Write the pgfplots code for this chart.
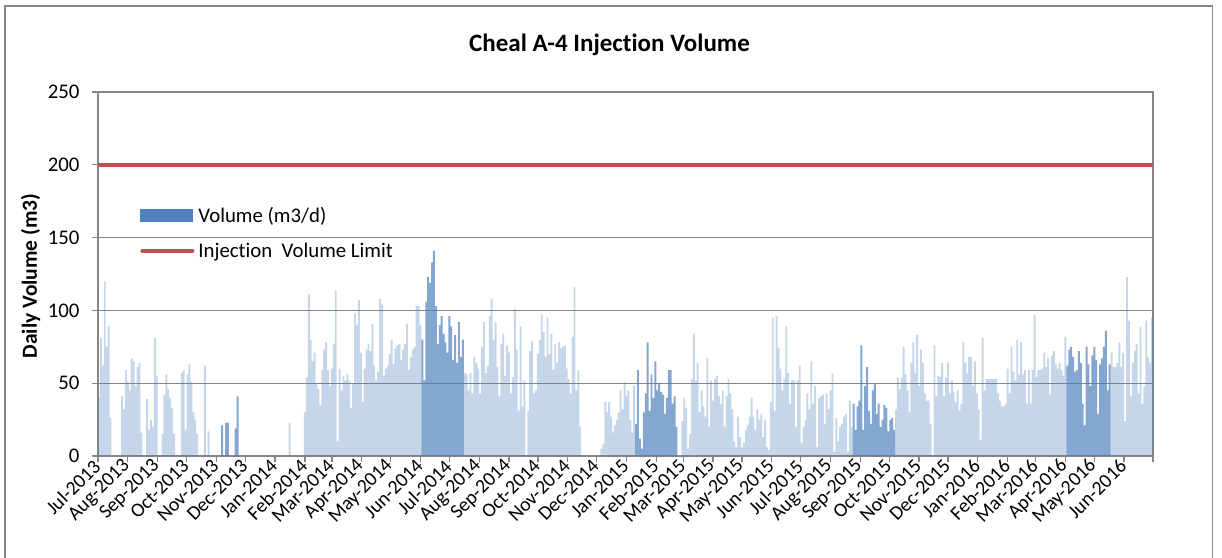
\documentclass[border=0pt]{standalone}
\usepackage{fontspec}
\setmainfont[Ligatures=NoCommon]{Carlito}
\usepackage{pgfplots}
\usepackage{pgfplotstable}
\pgfplotsset{compat=1.18}
\definecolor{legblue}{RGB}{79,129,189}
\definecolor{limitred}{RGB}{192,80,77}
\definecolor{gridgray}{RGB}{134,134,134}

% light (thin, sparse) daily volume bars, 2-day bins: day  value
\pgfplotstableread{
d v
0 40
2 81
4 62
6 120
8 75
10 89
12 26
14 0
24 41
26 32
28 59
30 51
32 45
34 67
36 65
38 48
40 61
42 64
44 16
46 0
50 39
52 18
54 25
56 20
58 81
60 55
62 0
66 15
68 42
70 56
72 46
74 40
76 33
78 15
80 0
86 57
88 59
90 18
92 56
94 63
96 51
98 30
100 25
102 15
104 0
110 62
112 0
114 17
116 0
198 23
200 0
214 30
216 54
218 111
220 80
222 65
224 71
226 50
228 46
230 35
232 59
234 73
236 78
238 59
240 48
242 60
244 77
246 114
248 10
250 60
252 45
254 55
256 52
258 56
260 52
262 33
264 50
266 98
268 90
270 107
272 71
274 37
276 60
278 73
280 77
282 72
284 91
286 62
288 52
290 58
292 108
294 104
296 55
298 60
300 62
302 70
304 80
306 63
308 74
310 76
312 77
314 66
316 73
318 77
320 91
322 59
324 68
326 73
328 75
330 103
332 103
334 90
336 0
380 57
382 56
384 45
386 57
388 43
390 68
392 64
394 60
396 43
398 75
400 92
402 57
404 62
406 96
408 108
410 80
412 92
414 61
416 41
418 77
420 84
422 55
424 76
426 71
428 43
430 54
432 101
434 73
436 31
438 89
440 34
442 52
444 0
446 31
448 72
450 79
452 43
454 45
456 70
458 80
460 97
462 85
464 68
466 95
468 70
470 84
472 59
474 77
476 64
478 78
480 74
482 75
484 76
486 60
488 53
490 43
492 82
494 116
496 45
498 59
500 20
502 0
522 5
524 8
526 37
528 30
530 37
532 27
534 16
536 21
538 25
540 30
542 45
544 32
546 51
548 41
550 45
552 25
554 16
556 48
558 0
606 24
608 40
610 33
612 5
614 15
616 53
618 84
620 52
622 64
624 30
626 45
628 34
630 27
632 67
634 20
636 52
638 38
640 53
642 55
644 41
646 36
648 45
650 20
652 41
654 53
656 43
658 32
660 10
662 6
664 27
666 13
668 6
670 9
672 18
674 21
676 27
678 40
680 27
682 18
684 32
686 25
688 29
690 13
692 25
694 6
696 4
698 37
700 95
702 31
704 96
706 74
708 60
710 45
712 53
714 89
716 57
718 36
720 52
722 52
724 20
726 52
728 62
730 9
732 20
734 25
736 43
738 32
740 65
742 36
744 48
746 6
748 40
750 41
752 42
754 22
756 43
758 32
760 45
762 57
764 3
766 26
768 10
770 20
772 22
774 27
776 29
778 3
780 38
782 20
784 0
828 32
830 54
832 46
834 54
836 75
838 56
840 45
842 30
844 64
846 78
848 57
850 83
852 48
854 73
856 64
858 43
860 38
862 38
864 22
866 0
868 76
870 41
872 55
874 54
876 64
878 41
880 54
882 64
884 43
886 52
888 44
890 37
892 45
894 31
896 36
898 78
900 64
902 57
904 68
906 68
908 48
910 65
912 43
914 32
916 11
918 81
920 45
922 53
924 53
926 53
928 53
930 53
932 53
934 43
936 38
938 34
940 34
942 36
944 60
946 43
948 75
950 58
952 52
954 80
956 56
958 78
960 56
962 59
964 36
966 59
968 36
970 59
972 97
974 54
976 59
978 59
980 60
982 71
984 61
986 67
988 42
990 69
992 72
994 63
996 60
998 64
1000 59
1002 55
1004 82
1006 0
1052 71
1054 61
1056 61
1058 64
1060 78
1062 61
1064 71
1066 24
1068 123
1070 93
1072 41
1074 64
1076 72
1078 77
1080 43
1082 89
1084 36
1086 48
1088 93
1090 68
1092 64
1094 95
1096 0
}\lightdata

% dense (darker) stretches of daily volume bars
\pgfplotstableread{
d v
128 21
130 0
132 23
134 23
136 0
142 19
144 41
146 0
336 80
338 52
340 106
342 123
344 119
346 133
348 141
350 103
352 77
354 90
356 96
358 84
360 78
362 71
364 96
366 89
368 66
370 83
372 64
374 92
376 68
378 80
380 0
558 22
560 59
562 12
564 5
566 30
568 43
570 78
572 31
574 56
576 40
578 65
580 45
582 50
584 44
586 42
588 29
590 40
592 59
594 59
596 36
598 41
600 20
602 0
784 36
786 18
788 34
790 38
792 76
794 18
796 48
798 61
800 31
802 22
804 45
806 50
808 29
810 36
812 20
814 25
816 35
818 33
820 17
822 25
824 26
826 18
828 0
1006 62
1008 73
1010 75
1012 68
1014 58
1016 59
1018 72
1020 64
1022 36
1024 21
1026 75
1028 63
1030 48
1032 69
1034 75
1036 66
1038 29
1040 63
1042 67
1044 75
1046 86
1048 45
1050 63
1052 0
}\darkdata

\begin{document}
\begin{tikzpicture}
\useasboundingbox (-98pt,-101pt) rectangle (1124pt,456pt);
\begin{axis}[
  at={(0pt,0pt)}, anchor=south west,
  scale only axis, width=1055pt, height=364pt,
  xmin=0, xmax=1096, ymin=0, ymax=250,
  ytick={0,50,100,150,200,250},
  xtick={0,31,62,92,123,153,184,215,243,274,304,335,365,396,427,457,488,518,549,580,608,639,669,700,730,761,792,822,853,883,914,945,974,1005,1035,1066,1096},
  xticklabels={Jul-2013,Aug-2013,Sep-2013,Oct-2013,Nov-2013,Dec-2013,Jan-2014,Feb-2014,Mar-2014,Apr-2014,May-2014,Jun-2014,Jul-2014,Aug-2014,Sep-2014,Oct-2014,Nov-2014,Dec-2014,Jan-2015,Feb-2015,Mar-2015,Apr-2015,May-2015,Jun-2015,Jul-2015,Aug-2015,Sep-2015,Oct-2015,Nov-2015,Dec-2015,Jan-2016,Feb-2016,Mar-2016,Apr-2016,May-2016,Jun-2016,{}},
  tick pos=left, tick align=outside, major tick length=6pt,
  axis line style={gridgray, line width=1.3pt},
  tick style={gridgray, line width=1.3pt},
  ymajorgrids, grid style={gridgray, line width=1.3pt},
  /pgf/number format/assume math mode=true,
  every tick label/.append style={font=\fontsize{20.8}{25}\selectfont, text=black},
  yticklabel style={xshift=-9pt},
  xticklabel style={rotate=45, anchor=east, xshift=2pt, font=\fontsize{19.8}{24}\selectfont},
  legend cell align=left,
  legend style={draw=none, fill=none, at={(0.0398,0.684)}, anchor=north west,
    font=\fontsize{20.8}{25}\selectfont, inner sep=0pt, row sep=19pt,
    column sep=4pt, nodes={inner sep=0pt}},
]
\addplot[const plot, fill=legblue, fill opacity=0.32, draw=none, forget plot]
  table[x=d, y=v] {\lightdata} \closedcycle;
\addplot[const plot, fill=legblue, fill opacity=0.7, draw=none, forget plot]
  table[x=d, y=v] {\darkdata} \closedcycle;
\addplot[limitred, line width=4pt, forget plot] coordinates {(0,200) (1096,200)};
\addlegendimage{legend image code/.code={\fill[legblue] (0pt,-6pt) rectangle (52pt,6pt);}}
\addlegendentry{Volume (m3/d)}
\addlegendimage{legend image code/.code={\draw[limitred, line width=4pt, line cap=round] (2pt,0pt) -- (52pt,0pt);}}
\addlegendentry{Injection\ \ Volume Limit}
\end{axis}
\node[anchor=base, font=\bfseries\fontsize{25}{30}\selectfont] at (511.5pt,404pt) {Cheal A-4 Injection Volume};
\node[anchor=base, rotate=90, font=\bfseries\fontsize{21.5}{25}\selectfont] at (-61pt,180pt) {Daily Volume (m3)};
\draw[gridgray, line width=1.3pt] (-93pt,-105pt) -- (-93pt,450pt) -- (1114.5pt,450pt) -- (1114.5pt,-105pt);
\end{tikzpicture}
\end{document}
